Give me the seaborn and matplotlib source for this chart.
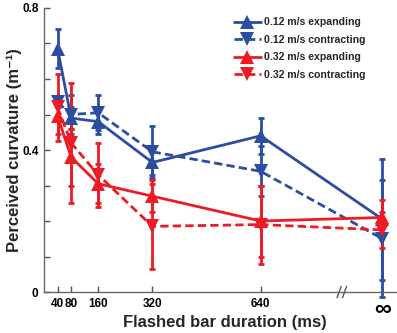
import numpy as np
import pandas as pd
import matplotlib
matplotlib.use("Agg")
import matplotlib.pyplot as plt
import seaborn as sns

# Data (infinity is drawn at x = 1000)
durations = [40, 80, 160, 320, 640, 1000]
tick_labels = ["40", "80", "160", "320", "640", "\u221e"]

blue_exp = [0.685, 0.49, 0.48, 0.365, 0.44, 0.205]
blue_exp_err = [0.055, 0.03, 0.035, 0.035, 0.05, 0.17]
blue_con = [0.535, 0.50, 0.505, 0.395, 0.34, 0.15]
blue_con_err = [0.015, 0.055, 0.05, 0.073, 0.07, 0.165]
red_exp = [0.495, 0.38, 0.305, 0.27, 0.20, 0.21]
red_exp_err = [0.05, 0.08, 0.055, 0.045, 0.10, 0.05]
red_con = [0.52, 0.42, 0.33, 0.185, 0.19, 0.175]
red_con_err = [0.095, 0.17, 0.09, 0.12, 0.11, 0.05]

labels = ["0.12 m/s expanding", "0.12 m/s contracting",
          "0.32 m/s expanding", "0.32 m/s contracting"]

blue = "#2b4ea2"
red = "#ed1c24"
palette = {labels[0]: blue, labels[1]: blue, labels[2]: red, labels[3]: red}
markers = {labels[0]: "^", labels[1]: "v", labels[2]: "^", labels[3]: "v"}
dashes = {labels[0]: "", labels[1]: (3, 1.5), labels[2]: "", labels[3]: (3, 1.5)}

series = [blue_exp, blue_con, red_exp, red_con]
errors = [blue_exp_err, blue_con_err, red_exp_err, red_con_err]

df = pd.DataFrame({
    "duration": durations * 4,
    "curvature": sum(series, []),
    "err": sum(errors, []),
    "cond": np.repeat(labels, len(durations)),
})

sns.set_style("ticks")
plt.rcParams["font.family"] = ["Liberation Sans", "DejaVu Sans"]

fig = plt.figure(figsize=(3.97, 3.33), dpi=100)
ax = fig.add_axes([0.111, 0.123, 0.889, 0.853])

# Fejlbjælker tegnes først, så linjerne ligger ovenpå
for lab in labels:
    d = df[df["cond"] == lab]
    ax.errorbar(d["duration"], d["curvature"], yerr=d["err"], fmt="none",
                ecolor=palette[lab], elinewidth=2, capsize=2.5, capthick=2,
                clip_on=False, zorder=2)

sns.lineplot(data=df, x="duration", y="curvature", hue="cond", style="cond",
             hue_order=labels, style_order=labels, palette=palette,
             markers=markers, dashes=dashes, linewidth=2, markersize=9.5,
             markeredgewidth=0, ax=ax, clip_on=False, zorder=3)

ax.set_xlim(0, 1043)
ax.set_ylim(0, 0.8)
ax.set_xticks(durations)
ax.set_xticklabels(tick_labels, fontsize=8.5, fontweight="bold")
ax.get_xticklabels()[-1].set_fontsize(17)
yt = np.round(np.arange(0, 0.81, 0.1), 1)
ax.set_yticks(yt)
ax.set_yticklabels(["0", "", "", "", "0.4", "", "", "", "0.8"],
                   fontsize=8.5, fontweight="bold")
ax.tick_params(direction="in", length=4, width=1, colors="#555555",
               labelcolor="black", pad=4)

for s in ["top", "right"]:
    ax.spines[s].set_visible(False)
for s in ["left", "bottom"]:
    ax.spines[s].set_color("#666666")
    ax.spines[s].set_linewidth(1)

# Akse-brud "//"
tr = ax.get_xaxis_transform()
for x0 in [866, 882]:
    ax.plot([x0, x0 + 12], [-0.02, 0.02], color="#555555", lw=1,
            transform=tr, clip_on=False)

ax.set_xlabel("Flashed bar duration (ms)", fontsize=12, fontweight="bold")
ax.xaxis.set_label_coords(0.511, -0.08)
ax.set_ylabel("Perceived curvature (m\u207b\u00b9)", fontsize=12,
              fontweight="bold")
ax.yaxis.set_label_coords(-0.062, 0.5)

leg = ax.legend(loc="upper left", bbox_to_anchor=(0.512, 1.0), frameon=False,
                fontsize=7.6, handlelength=2.5, handletextpad=0.3,
                labelspacing=0.7, title=None)
for t in leg.get_texts():
    t.set_fontweight("bold")

fig.savefig("out.png", dpi=100)
